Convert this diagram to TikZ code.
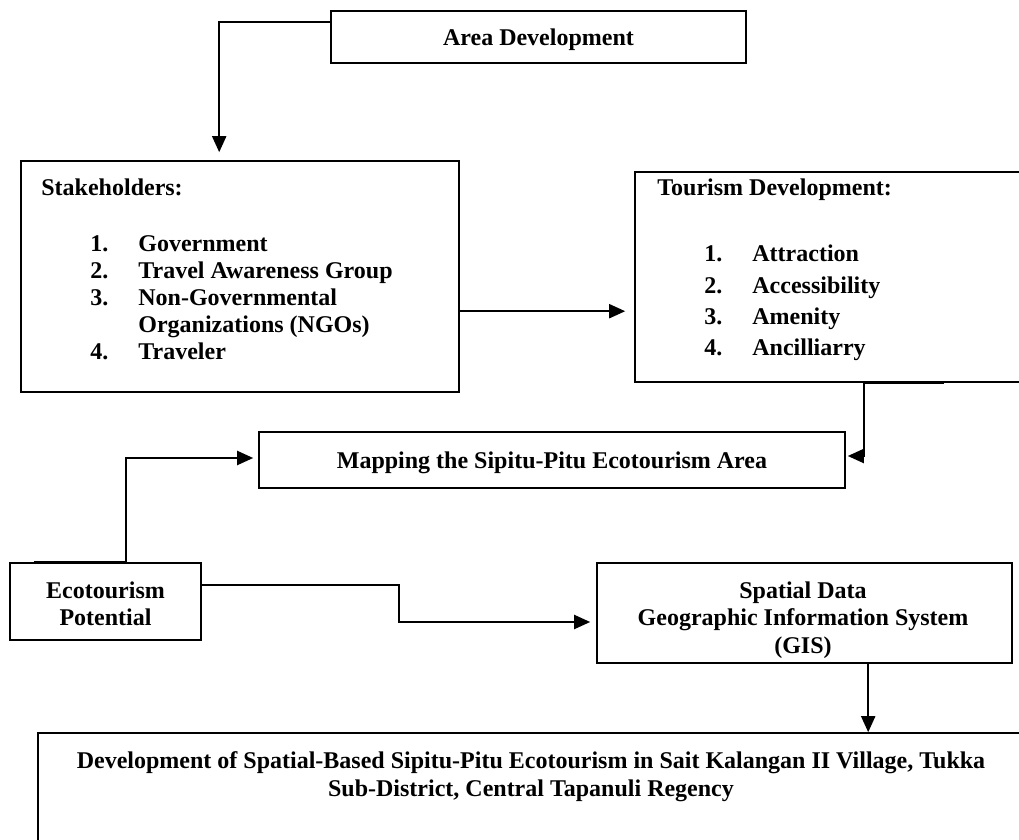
\documentclass[tikz,border=0pt]{standalone}
\usepackage{fontspec}
\setmainfont{Liberation Serif}
\usetikzlibrary{arrows.meta,calc}
\newcommand{\txtlines}[3]{{\fontsize{12}{#1}\selectfont\begin{tabular}[t]{@{}#2@{}}#3\end{tabular}}}
\tikzset{
  box/.style={draw=black, line width=0.8pt, rectangle, inner sep=0pt, fill=none},
  conn/.style={draw=black, line width=1pt, -{Triangle[length=8pt,width=7pt]}},
  txt/.style={inner sep=0pt, font=\fontsize{12}{13.6}\selectfont\bfseries}
}
\begin{document}
\begin{tikzpicture}[x=0.5pt,y=-0.5pt, every node/.style={font=\fontsize{12}{13.6}\selectfont\bfseries}]
\useasboundingbox (0,0) rectangle (1019,840);
\fill[white] (0,0) rectangle (1019,840);

% boxes
\node[box, minimum width=207.5pt, minimum height=26pt, text depth=0pt] (area) at (538.5,37) {Area Development};
\node[box, minimum width=219pt, minimum height=115.5pt] (stake) at (240,276.5) {};
\node[box, minimum width=193.5pt, minimum height=105pt] (tour) at (828.5,277) {};
\node[box, minimum width=293pt, minimum height=28pt, text depth=0pt] (map) at (552,460) {Mapping the Sipitu-Pitu Ecotourism Area};
\node[box, minimum width=95.5pt, minimum height=38.5pt] (eco) at (105.5,601.5) {};
\node[box, minimum width=207.5pt, minimum height=50pt] (spat) at (804.5,613) {};
\node[box, minimum width=493pt, minimum height=83.5pt] (goal) at (531,816.5) {};

% texts
\node[txt, anchor=base west] (stakehead) at (41,196) {Stakeholders:};
\node[txt, anchor=base west] (stakelist) at (90,251) {\txtlines{13.6}{p{24pt}@{}l}{%
1. & Government\\
2. & Travel Awareness Group\\
3. & Non-Governmental\\
   & Organizations (NGOs)\\
4. & Traveler}};
\node[txt, anchor=base west] (tourhead) at (657,196) {Tourism Development:};
\node[txt, anchor=base west] (tourlist) at (704,262) {\txtlines{15.65}{p{24pt}@{}l}{%
1. & Attraction\\
2. & Accessibility\\
3. & Amenity\\
4. & Ancilliarry}};
\node[txt, anchor=base] (ecotext) at (105.5,598) {\txtlines{13.5}{c}{Ecotourism\\Potential}};
\node[txt, anchor=base] (spattext) at (803,598) {\txtlines{13.75}{c}{Spatial Data\\Geographic Information System\\(GIS)}};
\node[txt, anchor=base] (goaltext) at (531,768) {\txtlines{14}{c}{Development of Spatial-Based Sipitu-Pitu Ecotourism in Sait Kalangan II Village, Tukka\\Sub-District, Central Tapanuli Regency}};

% connectors
\draw[conn] ($(area.north west)+(0,12)$) -| ($(stake.north west)+(199,-8)$);
\draw[conn] ($(stake.north east)+(0,151)$) -- ($(tour.north west)+(-9,140)$);
\draw[conn] ($(tour.south west)+(310,0)$) -- ($(tour.south west)+(230,0)$) |- ($(map.east)+(2,-4)$);
\draw[conn] ($(eco.north west)+(25,0)$) -- ($(eco.north west)+(117,0)$) |- ($(map.west)+(-5,-2)$);
\draw[conn] ($(eco.north east)+(0,23)$) -| ($(eco.north east)+(197,41)$) |- ($(spat.west)+(-6,9)$);
\draw[conn] ($(spat.south west)+(272,0)$) -- ($(goal.north west)+(831,0)$);
\end{tikzpicture}
\end{document}
